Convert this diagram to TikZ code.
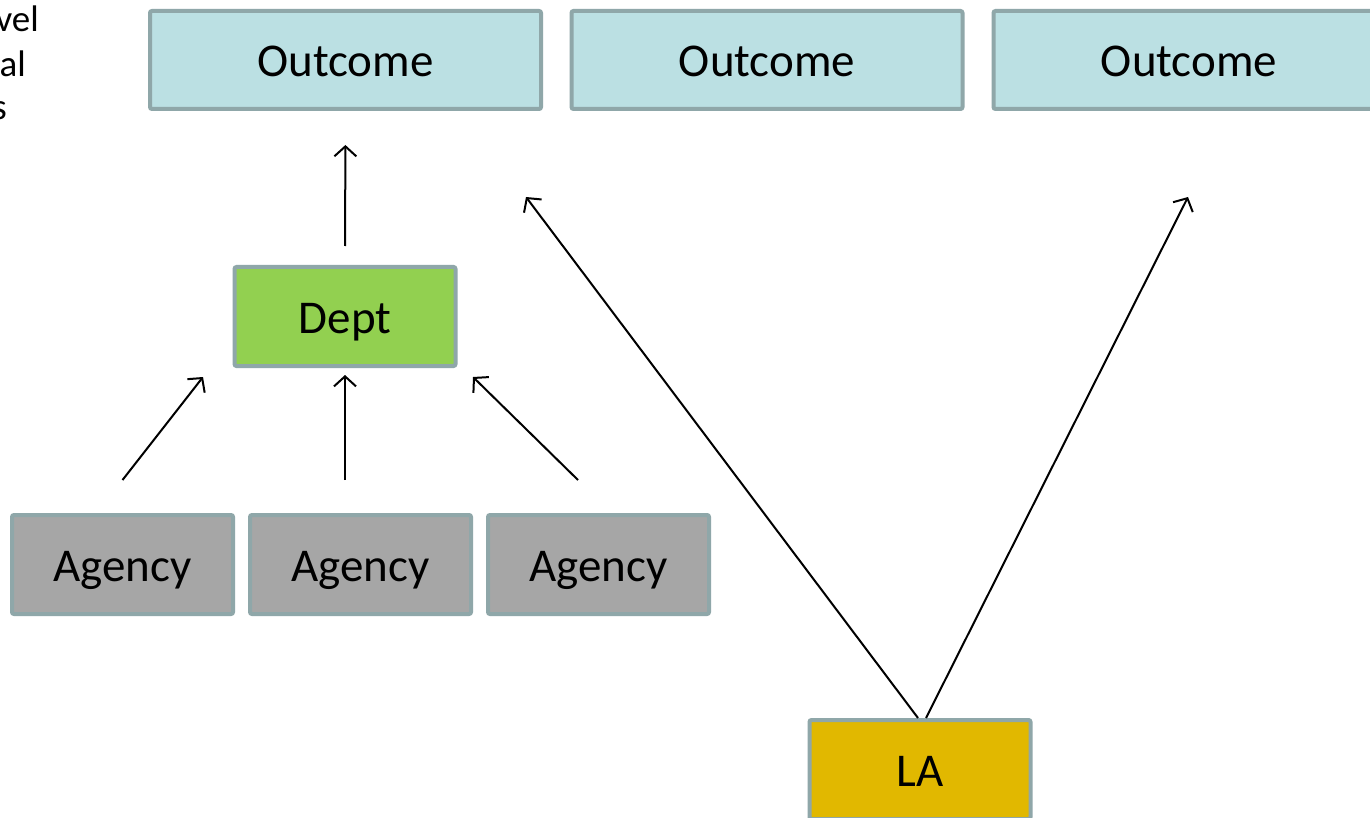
\documentclass[tikz,border=0pt]{standalone}
\usepackage{fontspec}
\setmainfont{Carlito}
\usetikzlibrary{arrows.meta,calc}
\definecolor{boxline}{HTML}{8FA7A9}
\definecolor{outfill}{HTML}{BBE0E3}
\definecolor{deptfill}{HTML}{92D050}
\definecolor{agfill}{HTML}{A6A6A6}
\definecolor{lafill}{HTML}{E1B800}
\begin{document}
\begin{tikzpicture}[x=1pt,y=-1pt,
  box/.style={draw=boxline, line width=4pt, rounded corners=2pt, inner sep=0pt, minimum height=99pt, text height=40pt, text depth=6pt, font=\fontsize{47}{56}\selectfont},
  outbox/.style={box, fill=outfill, minimum width=391pt, minimum height=98pt},
  smallbox/.style={box, minimum width=221pt},
  arr/.style={draw=black, line width=2pt, -{Straight Barb[length=10pt,width=22pt,line width=2pt]}},
  lbl/.style={anchor=base east, inner sep=0pt, font=\fontsize{37}{44}\selectfont}]
\useasboundingbox (0,0) rectangle (1370,818);
\fill[white] (0,0) rectangle (1370,818);
\node[lbl] (l1) at (39,32) {vel};
\node[lbl] (l2) at (26,77) {al};
\node[lbl] (l3) at (7,120) {s};
\node[outbox] (out1) at (345.5,60) {Outcome};
\node[outbox] (out2) at (767,60) {Outcome};
\node[outbox] (out3) at (1189,60) {Outcome};
\node[smallbox, fill=deptfill] (dept) at (345,316.5) {Dept};
\node[smallbox, fill=agfill] (ag1) at (122.5,564.5) {Agency};
\node[smallbox, fill=agfill] (ag2) at (360.5,564.5) {Agency};
\node[smallbox, fill=agfill] (ag3) at (598.5,564.5) {Agency};
\node[smallbox, fill=lafill] (la) at (920,769.5) {LA};
\coordinate (t1) at (203,377);
\coordinate (t3) at (473,377);
\coordinate (t4) at (526,197);
\coordinate (t5) at (1188,197);
\draw[arr, shorten <=19pt, shorten >=34pt] (dept.north) -- (out1.south);
\draw[arr] ($(ag1.north)+(0,-33)$) -- (t1);
\draw[arr, shorten <=33pt, shorten >=7pt] (ag2.north -| dept.south) -- (dept.south);
\draw[arr] ($(ag3.north)+(-20.5,-33)$) -- (t3);
\draw[arr] ($(la.north)+(-2,0)$) -- (t4);
\draw[arr] ($(la.north)+(6,0)$) -- (t5);
\end{tikzpicture}
\end{document}
